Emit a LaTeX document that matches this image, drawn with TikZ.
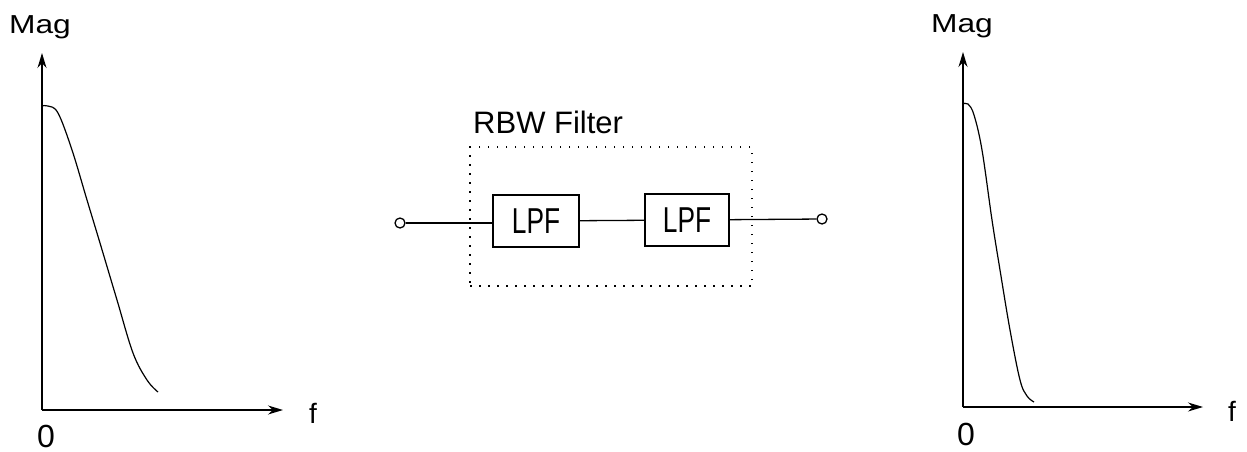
\documentclass[tikz,border=0pt]{standalone}
\usepackage{fontspec}
\setmainfont{Liberation Sans}
\usetikzlibrary{arrows.meta}
\tikzset{
  axis/.style={line width=1.3pt, -{Stealth[length=15pt,width=9pt]}},
  curve/.style={line width=1.2pt},
  wire/.style={line width=1.3pt},
  term/.style={circle, draw, line width=1.3pt, minimum size=10pt, inner sep=0pt, fill=white},
  lpf/.style={draw, line width=1.3pt, inner sep=0pt, font=\fontsize{36}{36}\selectfont},
  fbox/.style={draw, line width=1.5pt, dash pattern=on 1.5pt off 7.5pt, inner sep=0pt},
  lbl/.style={inner sep=0pt, anchor=base}
}
\newcommand{\hsq}[2]{\scalebox{#1}[1]{#2}}
\begin{document}
\begin{tikzpicture}[x=1pt,y=-1pt]
\useasboundingbox (0,0) rectangle (1247,452);
% left plot
\coordinate (o1) at (42,410);
\coordinate (y1) at (42,53);
\coordinate (x1) at (283,410);
\draw[axis] (o1) -- (y1);
\draw[axis] (o1) -- (x1);
\draw[curve] plot[smooth, tension=0.6] coordinates {(42,106) (48,106) (58,113) (72,150) (87,200) (100,243) (117,300) (133,353) (147,380) (158,392)};
\node[lbl, font=\fontsize{26}{26}\selectfont] (mag1) at (40,34) {\hsq{1.22}{Mag}};
\node[lbl, font=\fontsize{28}{28}\selectfont] (f1) at (313,423) {f};
\node[lbl, font=\fontsize{32}{32}\selectfont] (z1) at (46,447) {0};
% right plot
\coordinate (o2) at (963,407);
\coordinate (y2) at (963,52);
\coordinate (x2) at (1203,407);
\draw[axis] (o2) -- (y2);
\draw[axis] (o2) -- (x2);
\draw[curve] plot[smooth, tension=0.6] coordinates {(963,104) (968,104) (974,115) (982,150) (992,220) (1000,270) (1010,330) (1020,380) (1027,396) (1034,402)};
\node[lbl, font=\fontsize{26}{26}\selectfont] (mag2) at (962,33) {\hsq{1.22}{Mag}};
\node[lbl, font=\fontsize{28}{28}\selectfont] (f2) at (1232,421) {f};
\node[lbl, font=\fontsize{32}{32}\selectfont] (z2) at (966,445) {0};
% RBW filter
\node[fbox, minimum width=282pt, minimum height=139pt] (rbw) at (611,216.5) {};
\node[inner sep=0pt, anchor=base west, font=\fontsize{31}{31}\selectfont] (rbwl) at (473,133) {RBW Filter};
\node[lpf, minimum width=86pt, minimum height=52pt] (l1) at (536,221) {\hsq{0.73}{LPF}};
\node[lpf, minimum width=84pt, minimum height=52pt] (l2) at (687,220) {\hsq{0.73}{LPF}};
\node[term] (in) at (400,223) {};
\node[term] (out) at (822,219) {};
\draw[wire] (in) -- (in -| l1.west);
\draw[wire] (l1) -- (l2);
\draw[wire] (l2) -- (out);
\end{tikzpicture}
\end{document}
